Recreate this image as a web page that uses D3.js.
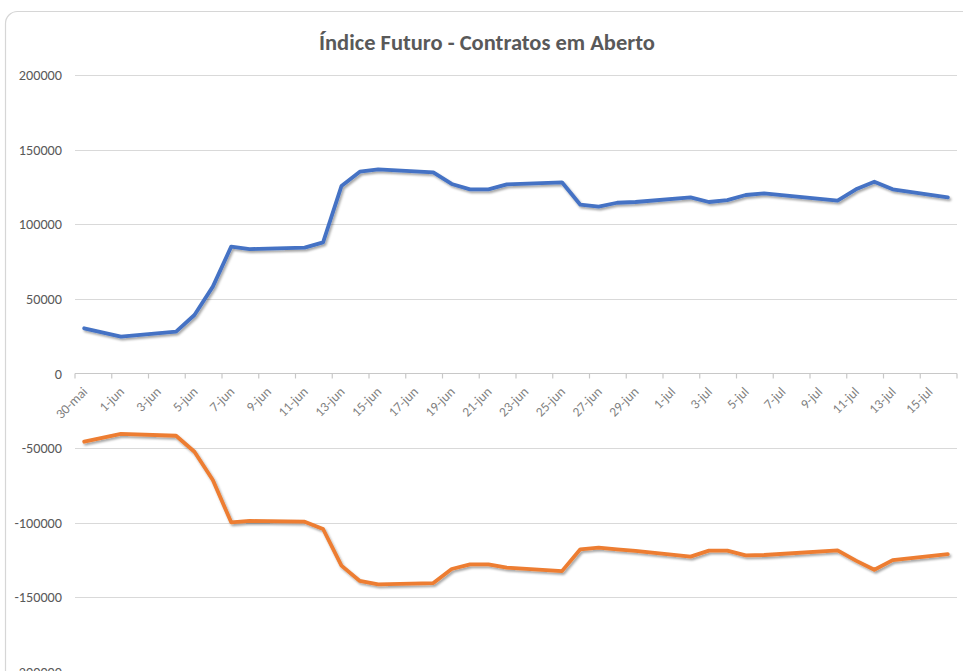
<html>

<head>
    <meta charset="utf-8" />
    <script src="https://cdn.jsdelivr.net/npm/d3@7"></script>
    <style>
        body { margin: 0; background: #ffffff; }
    </style>
</head>

<body>
    <script>
        // trading days and open contracts
        var dates = ["2018-05-30", "2018-06-01", "2018-06-04", "2018-06-05", "2018-06-06", "2018-06-07",
            "2018-06-08", "2018-06-11", "2018-06-12", "2018-06-13", "2018-06-14", "2018-06-15",
            "2018-06-18", "2018-06-19", "2018-06-20", "2018-06-21", "2018-06-22", "2018-06-25",
            "2018-06-26", "2018-06-27", "2018-06-28", "2018-06-29", "2018-07-02", "2018-07-03",
            "2018-07-04", "2018-07-05", "2018-07-06", "2018-07-10", "2018-07-11", "2018-07-12",
            "2018-07-13", "2018-07-16"];
        var compra = [30300, 24700, 28000, 39200, 58200, 85000,
            83400, 84300, 87900, 125600, 135200, 136800,
            134800, 127000, 123400, 123400, 126700, 128100,
            113100, 111800, 114400, 114900, 118000, 114900,
            116200, 119600, 120700, 115800, 123400, 128500,
            123400, 118000];
        var venda = [-45700, -40500, -41700, -52400, -71400, -99700,
            -98800, -99300, -104200, -128700, -139000, -141300,
            -140400, -131000, -127900, -127900, -130100, -132400,
            -117800, -116600, -117800, -118900, -122700, -118700,
            -118700, -121800, -121600, -118500, -125400, -131500,
            -125000, -121000];
        var yTicks = [200000, 150000, 100000, 50000, 0, -50000, -100000, -150000, -200000];
        var firstDay = "2018-05-30";
        var lastDay = "2018-07-16";
        var monthNames = ["jan", "fev", "mar", "abr", "mai", "jun", "jul", "ago", "set", "out", "nov", "dez"];

        var width = 963;
        var height = 671;
        var plot = { left: 75, right: 957, top: 75, zero: 373.5 };
        var font = "Carlito, Calibri, 'Open Sans', sans-serif";

        var parse = d3.timeParse("%Y-%m-%d");
        var allDays = d3.timeDay.range(parse(firstDay), d3.timeDay.offset(parse(lastDay), 1));

        var x = d3.scaleBand()
            .domain(allDays.map(function (d) { return +d; }))
            .range([plot.left, plot.right]);
        var y = d3.scaleLinear()
            .domain([0, 200000])
            .range([plot.zero, plot.top]);

        var svg = d3.select('body')
            .append('svg')
            .attr('width', width)
            .attr('height', height)
            .style('display', 'block');

        var defs = svg.append('defs');
        var shadow = defs.append('filter')
            .attr('id', 'shadow')
            .attr('x', '-5%').attr('y', '-5%')
            .attr('width', '110%').attr('height', '120%');
        shadow.append('feDropShadow')
            .attr('dx', 1.5).attr('dy', 2)
            .attr('stdDeviation', 1.2)
            .attr('flood-color', '#000')
            .attr('flood-opacity', 0.35);

        // card frame
        svg.append('rect')
            .attr('x', 5.5).attr('y', 11.5)
            .attr('width', 975).attr('height', 720)
            .attr('rx', 12)
            .attr('fill', '#ffffff')
            .attr('stroke', '#d6d6d6')
            .attr('stroke-width', 1.2);

        svg.append('text')
            .text('Índice Futuro - Contratos em Aberto')
            .attr('x', 487)
            .attr('y', 50)
            .attr('text-anchor', 'middle')
            .attr('font-family', font)
            .attr('font-weight', 600)
            .attr('font-size', 22.5)
            .attr('fill', '#595959');

        // gridlines and y labels
        svg.selectAll('line.grid')
            .data(yTicks.filter(function (d) { return d !== 0; }))
            .enter()
            .append('line')
            .attr('class', 'grid')
            .attr('x1', plot.left)
            .attr('x2', plot.right)
            .attr('y1', function (d) { return Math.round(y(d)) + 0.5; })
            .attr('y2', function (d) { return Math.round(y(d)) + 0.5; })
            .attr('stroke', '#d9d9d9')
            .attr('stroke-width', 1.2);

        svg.selectAll('text.ylab')
            .data(yTicks)
            .enter()
            .append('text')
            .attr('class', 'ylab')
            .text(function (d) { return d; })
            .attr('x', 62)
            .attr('y', function (d) { return y(d) + 5; })
            .attr('text-anchor', 'end')
            .attr('font-family', font)
            .attr('font-size', 14.2)
            .attr('fill', '#595959');

        // category axis at zero
        var tickDays = allDays.filter(function (d, i) { return i % 2 === 0; });
        svg.append('line')
            .attr('x1', plot.left).attr('x2', plot.right)
            .attr('y1', plot.zero).attr('y2', plot.zero)
            .attr('stroke', '#c8c8c8')
            .attr('stroke-width', 1.2);
        svg.selectAll('line.tick')
            .data(tickDays.concat([null]))
            .enter()
            .append('line')
            .attr('class', 'tick')
            .attr('x1', function (d) { return d ? x(+d) : plot.right; })
            .attr('x2', function (d) { return d ? x(+d) : plot.right; })
            .attr('y1', plot.zero)
            .attr('y2', plot.zero + 5)
            .attr('stroke', '#c8c8c8')
            .attr('stroke-width', 1.2);

        svg.selectAll('text.xlab')
            .data(tickDays)
            .enter()
            .append('text')
            .attr('class', 'xlab')
            .text(function (d) { return d.getDate() + '-' + monthNames[d.getMonth()]; })
            .attr('transform', function (d) {
                var cx = x(+d) + x.bandwidth() / 2 + 4;
                return 'translate(' + cx + ',' + (plot.zero + 19) + ') rotate(-45)';
            })
            .attr('text-anchor', 'end')
            .attr('font-family', font)
            .attr('font-size', 13.5)
            .attr('fill', '#7f7f7f');

        // series
        var points = dates.map(function (d, i) {
            return { day: parse(d), compra: compra[i], venda: venda[i] };
        });
        function seriesLine(key) {
            return d3.line()
                .x(function (d) { return x(+d.day) + x.bandwidth() / 2; })
                .y(function (d) { return y(d[key]); });
        }
        var series = [
            { key: 'compra', color: '#4472c4' },
            { key: 'venda', color: '#ed7d31' }
        ];
        svg.selectAll('path.serie')
            .data(series)
            .enter()
            .append('path')
            .attr('class', 'serie')
            .attr('d', function (s) { return seriesLine(s.key)(points); })
            .attr('fill', 'none')
            .attr('stroke', function (s) { return s.color; })
            .attr('stroke-width', 3.8)
            .attr('stroke-linejoin', 'round')
            .attr('stroke-linecap', 'round')
            .attr('filter', 'url(#shadow)');
    </script>
</body>

</html>
